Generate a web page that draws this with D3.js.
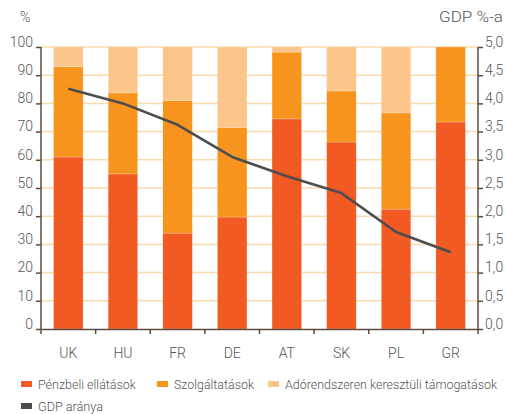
<!DOCTYPE html>
<html>
<head>
<meta charset="utf-8">
<script src="https://cdn.jsdelivr.net/npm/d3@7"></script>
<style>
  body { margin: 0; background: #fff; }
  svg text { font-family: "Roboto", sans-serif; font-weight: 300; fill: #555; font-size: 14px; }
</style>
</head>
<body>
<svg id="chart" width="506" height="414"></svg>
<script>
// data
var countries = ["UK", "HU", "FR", "DE", "AT", "SK", "PL", "GR"];
var cash = [61, 55, 34, 39.7, 74.5, 66.3, 42.5, 73.4];
var services = [32, 28.7, 47, 31.8, 23.7, 18.1, 34.1, 26.6];
var taxSupport = [7, 16.3, 19, 28.5, 1.8, 15.6, 23.4, 0];
var gdpShare = [4.26, 4.0, 3.62, 3.05, 2.71, 2.41, 1.72, 1.36];
var seriesNames = ["Pénzbeli ellátások", "Szolgáltatások", "Adórendszeren keresztüli támogatások"];
var leftTicks = [0, 10, 20, 30, 40, 50, 60, 70, 80, 90, 100];
var rightTicks = [0, 0.5, 1, 1.5, 2, 2.5, 3, 3.5, 4, 4.5, 5];

var colors = ["#f15a22", "#f7941d", "#fcc589"];
var lineColor = "#4d4d4f";

var svg = d3.select("#chart");
var margin = {left: 41, right: 28, top: 47, bottom: 85};
var W = 506, H = 414;

var x = d3.scaleBand().domain(countries).range([margin.left, W - margin.right]).paddingInner(0.46).paddingOuter(0.23);
var xb = d3.scaleBand().domain(countries).range([margin.left, W - margin.right]);
var y = d3.scaleLinear().domain([0, 100]).range([H - margin.bottom, margin.top]);
var y2 = d3.scaleLinear().domain([0, 5]).range([H - margin.bottom, margin.top]);

// grid
svg.append("g").selectAll("line").data(leftTicks.slice(1)).join("line")
  .attr("x1", margin.left).attr("x2", W - margin.right)
  .attr("y1", d => y(d)).attr("y2", d => y(d))
  .attr("stroke", "#fdd9ae").attr("stroke-width", 1.5);

// stacked bars
var rows = countries.map(function (c, i) {
  return {c: c, s0: cash[i], s1: services[i], s2: taxSupport[i]};
});
var stack = d3.stack().keys(["s0", "s1", "s2"])(rows);
svg.append("g").selectAll("g").data(stack).join("g")
  .attr("fill", (d, i) => colors[i])
  .selectAll("rect").data(d => d).join("rect")
  .attr("x", d => x(d.data.c))
  .attr("width", x.bandwidth())
  .attr("y", d => y(d[1]))
  .attr("height", d => y(d[0]) - y(d[1]))
  .attr("stroke", "#fff").attr("stroke-opacity", 0.35).attr("stroke-width", 0.6);

// line
var line = d3.line().x((d, i) => xb(countries[i]) + xb.bandwidth() / 2).y(d => y2(d));
svg.append("path").datum(gdpShare).attr("d", line)
  .attr("fill", "none").attr("stroke", lineColor).attr("stroke-width", 2.6)
  .attr("stroke-linejoin", "round");

// axes
var axisColor = "#5b4b41";
var gl = svg.append("g").attr("transform", "translate(" + margin.left + ",0)")
  .call(d3.axisLeft(y).tickValues(leftTicks).tickSize(5).tickPadding(3));
gl.selectAll("text").attr("dy", "-0.05em");

var gr = svg.append("g").attr("transform", "translate(" + (W - margin.right) + ",0)")
  .call(d3.axisRight(y2).tickValues(rightTicks).tickSize(5).tickPadding(2)
    .tickFormat(d => d3.format(".1f")(d).replace(".", ",")));
gr.selectAll("text").attr("dy", "-0.05em");

var gx = svg.append("g").attr("transform", "translate(0," + (H - margin.bottom) + ")")
  .call(d3.axisBottom(xb).tickSize(0).tickPadding(19));
gx.selectAll(".tickmark").data(countries.concat(["end"])).join("line")
  .attr("class", "tickmark")
  .attr("x1", (d, i) => margin.left + i * xb.step()).attr("x2", (d, i) => margin.left + i * xb.step())
  .attr("y1", 0).attr("y2", 5).attr("stroke", axisColor).attr("stroke-width", 1.5);

[gl, gr, gx].forEach(function (g) {
  g.select(".domain").attr("stroke", axisColor).attr("stroke-width", 1.5);
  g.selectAll(".tick line").attr("stroke", axisColor).attr("stroke-width", 1.5);
  g.selectAll("text").attr("fill", "#555").style("font-size", "14px");
});
gl.select(".domain").attr("d", "M0," + y(0) + "V" + y(100));
gr.select(".domain").attr("d", "M0," + y(0) + "V" + y(100));

// unit labels
svg.append("text").attr("x", 20).attr("y", 22).text("%");
svg.append("text").attr("x", 503).attr("y", 22).attr("text-anchor", "end")
  .attr("textLength", 64).attr("lengthAdjust", "spacingAndGlyphs").text("GDP %-a");

// legend
var legendItems = [
  {name: seriesNames[0], color: colors[0], lx: 21, ly: 384, w: 98},
  {name: seriesNames[1], color: colors[1], lx: 157, ly: 384, w: 80},
  {name: seriesNames[2], color: colors[2], lx: 268, ly: 384, w: 212},
  {name: "GDP aránya", color: lineColor, lx: 21, ly: 406, w: 65}
];
var lg = svg.append("g").selectAll("g").data(legendItems).join("g")
  .attr("transform", d => "translate(" + d.lx + "," + d.ly + ")");
lg.append("rect").attr("width", 11).attr("height", 6).attr("y", -3).attr("fill", d => d.color);
lg.append("text").attr("x", 17).attr("y", 5).style("font-size", "13px")
  .attr("textLength", d => d.w).attr("lengthAdjust", "spacingAndGlyphs")
  .text(d => d.name);
</script>
</body>
</html>
